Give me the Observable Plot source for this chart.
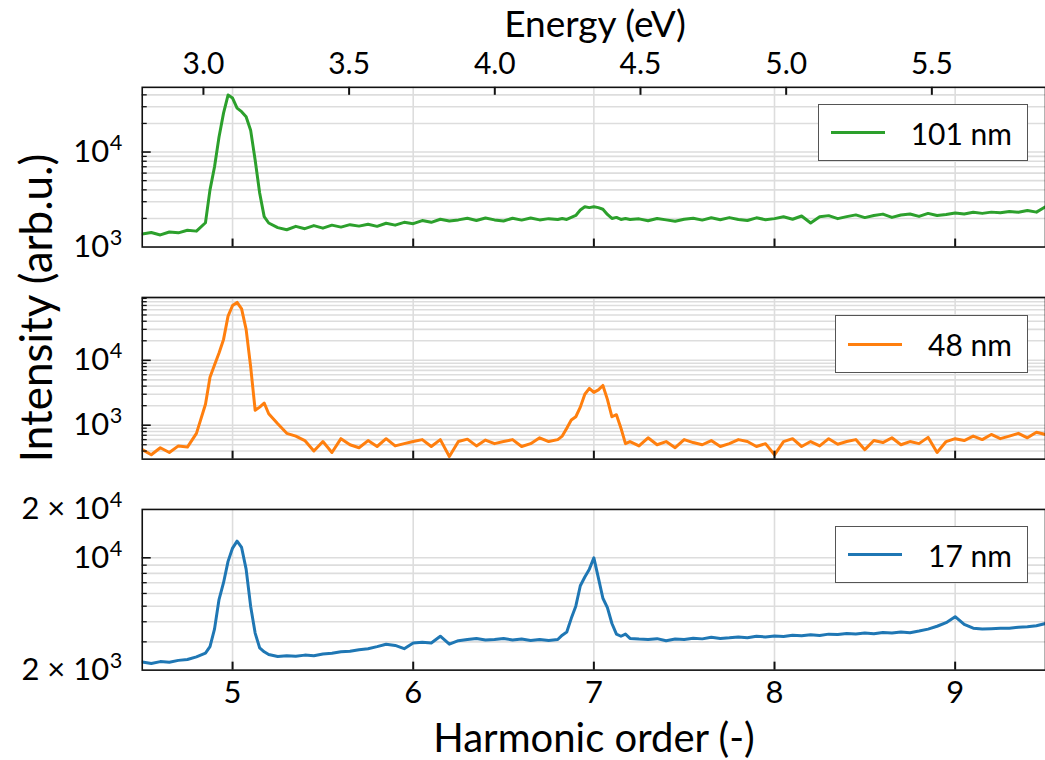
<!DOCTYPE html>
<html><head><meta charset="utf-8">
<script src="https://cdn.jsdelivr.net/npm/d3@7"></script>
<script src="https://cdn.jsdelivr.net/npm/@observablehq/plot@0.6"></script>
<style>
body{margin:0;background:#fff;}
#fig{position:relative;width:1045px;height:760px;overflow:hidden;font-family:Lato,"Open Sans",sans-serif;color:#000;background:#fff;}
.panel{position:absolute;left:0;}
.title{position:absolute;white-space:nowrap;line-height:1;}
.legend{position:absolute;border:1.5px solid #555;background:#fff;box-sizing:border-box;}
.legend .ln{position:absolute;height:3px;}
.legend .tx{position:absolute;font-size:30px;line-height:1;white-space:nowrap;}
</style></head>
<body><div id="fig"></div>
<script>
// ---- data ----
const harmonic = [4.50,4.55,4.60,4.65,4.70,4.75,4.80,4.85,
 4.875,4.90,4.925,4.95,4.975,5.00,5.025,5.05,5.075,5.10,5.125,5.15,5.175,5.20,
 5.25,5.30,5.35,5.40,5.45,5.50,5.55,5.60,5.65,5.70,5.75,5.80,5.85,5.90,5.95,6.00,
 6.05,6.10,6.15,6.20,6.25,6.30,6.35,6.40,6.45,6.50,6.55,6.60,6.65,6.70,6.75,
 6.80,6.825,6.85,6.875,6.90,6.925,6.95,6.975,7.00,7.025,7.05,7.075,7.10,7.125,7.15,7.175,7.20,
 7.25,7.30,7.35,7.40,7.45,7.50,7.55,7.60,7.65,7.70,7.75,7.80,7.85,7.90,7.95,8.00,
 8.05,8.10,8.15,8.20,8.25,8.30,8.35,8.40,8.45,8.50,8.55,8.60,8.65,8.70,8.75,
 8.80,8.85,8.90,8.95,9.00,9.05,9.10,9.15,9.20,9.25,9.30,9.35,9.40,9.45,9.50];

const intensity101 = [1370,1420,1340,1440,1410,1500,1470,1800,
 4000,6950,14400,25700,39800,37000,29000,26600,23500,17000,8240,3700,2090,1790,
 1600,1520,1650,1560,1680,1580,1700,1620,1720,1660,1740,1650,1780,1700,1820,1760,
 1900,1820,1960,1880,1930,2010,1900,2020,1930,1880,2010,1920,2020,1930,1990,
 1950,2000,1950,2050,2150,2450,2650,2600,2650,2600,2500,2200,2000,2050,1950,2000,1950,
 1980,1890,2000,1930,1870,1960,2010,1920,2030,1940,2040,1950,1900,2030,1940,1990,
 2080,1960,2120,1790,2080,2140,1990,2090,2180,2040,2150,2220,2050,2170,2230,
 2100,2260,2150,2200,2280,2230,2320,2260,2330,2290,2370,2320,2420,2330,2650];

const intensity48 = [420,350,450,380,480,460,750,2100,
 5500,8500,13000,21000,48000,70000,78000,62000,30000,8000,1700,1900,2200,1500,
 1050,750,680,580,400,560,380,620,500,450,580,470,620,480,520,560,
 600,470,600,330,560,610,480,590,520,560,600,470,520,640,560,
 600,680,900,1200,1350,1900,3000,3700,3200,3500,4100,2500,1350,1450,900,520,560,
 480,640,500,560,450,600,540,500,580,470,520,600,560,470,520,350,
 560,620,470,560,480,620,510,560,600,420,580,540,640,500,560,
 520,650,380,560,620,580,680,600,720,620,680,750,640,780,720];

const intensity17 = [2250,2200,2260,2240,2300,2330,2420,2550,
 2800,3600,5500,7000,9500,11500,12700,11600,8500,5000,3400,2750,2600,2500,
 2430,2460,2440,2480,2460,2520,2550,2600,2620,2680,2720,2800,2900,2850,2720,2950,
 2980,2950,3250,2900,3050,3100,3150,3080,3100,3150,3080,3120,3060,3100,3060,
 3100,3300,3450,4200,5000,6700,7600,8500,10000,7500,5600,4900,3900,3350,3250,3350,3150,
 3120,3100,3140,3050,3120,3100,3160,3130,3200,3150,3180,3220,3180,3250,3220,3260,
 3240,3300,3270,3320,3290,3350,3330,3380,3360,3400,3370,3430,3400,3450,3420,
 3500,3600,3750,3950,4300,3850,3650,3600,3620,3650,3640,3700,3720,3780,3900];

const seriesLabels = ["101 nm", "48 nm", "17 nm"];
const seriesColors = ["#2ca02c", "#ff7f0e", "#1f77b4"];
const harmonicTicks = [5, 6, 7, 8, 9];
const energyTicks = [3.0, 3.5, 4.0, 4.5, 5.0, 5.5];
const photonEnergy = 0.62; // eV per harmonic order (fundamental)
const xDomain = [4.5, 9.5];
const yDomains = [[1000, 48000], [300, 93000], [2000, 20000]];
const yMajors = [[1e3, 1e4], [1e3, 1e4], [2e3, 1e4, 2e4]];
const yMinors = [
  [2e3,3e3,4e3,5e3,6e3,7e3,8e3,9e3,2e4,3e4,4e4],
  [4e2,5e2,6e2,7e2,8e2,9e2,2e3,3e3,4e3,5e3,6e3,7e3,8e3,9e3,2e4,3e4,4e4,5e4,6e4,7e4,8e4,9e4],
  [3e3,4e3,5e3,6e3,7e3,8e3,9e3]
];
const xTitle = "Harmonic order (-)";
const topTitle = "Energy (eV)";
const yTitle = "Intensity (arb.u.)";

// ---- layout ----
const FONT = 'Lato, "Open Sans", sans-serif';
const SVGNS = "http://www.w3.org/2000/svg";
const W = 1047, ML = 142;
const layouts = [
  {top: 0, height: 250, marginTop: 87, marginBottom: 3},
  {top: 280, height: 182, marginTop: 17, marginBottom: 3},
  {top: 480, height: 280, marginTop: 29, marginBottom: 90}
];
function fmtLog(v) {
  const e = Math.floor(Math.log10(v) + 1e-9);
  const m = Math.round(v / Math.pow(10, e));
  return (m === 1 ? "" : m + " × ") + "10^" + e;
}
const seriesValues = [intensity101, intensity48, intensity17];
const fig = document.getElementById("fig");

seriesValues.forEach((vals, i) => {
  const L = layouts[i];
  const innerW = W - ML;
  const innerH = L.height - L.marginTop - L.marginBottom;
  const data = harmonic.map((h, j) => ({h, v: vals[j]}));
  const inside = v => v > yDomains[i][0] && v < yDomains[i][1];
  const marks = [
    Plot.ruleX(harmonicTicks, {x: d => d, stroke: "#dddddd", strokeWidth: 1.6}),
    Plot.ruleY([...yMinors[i], ...yMajors[i]].filter(inside), {y: d => d, stroke: "#dddddd", strokeWidth: 1.6}),
    Plot.line(data, {x: "h", y: "v", stroke: seriesColors[i], strokeWidth: 3, strokeLinejoin: "round", clip: true}),
    Plot.ruleX(harmonicTicks, {x: d => d, stroke: "#111", strokeWidth: 2, insetTop: innerH - 8}),
    Plot.ruleY(yMajors[i].filter(inside), {y: d => d, stroke: "#111", strokeWidth: 1.6, insetRight: innerW - 9}),
    Plot.ruleY(yMinors[i], {y: d => d, stroke: "#111", strokeWidth: 1.3, insetRight: innerW - 5}),
    Plot.axisY(yMajors[i], {tickSize: 0, tickPadding: 20, tickFormat: fmtLog, fontSize: 31, fontFamily: FONT, label: null}),
    Plot.frame({stroke: "#111", strokeWidth: 1.6})
  ];
  if (i === 0) {
    marks.push(Plot.ruleX(energyTicks, {x: e => e / photonEnergy, stroke: "#111", strokeWidth: 2, insetBottom: innerH - 8}));
    marks.push(Plot.axisX(energyTicks.map(e => e / photonEnergy), {anchor: "top", tickSize: 0, tickPadding: 13, tickFormat: d => (d * photonEnergy).toFixed(1), fontSize: 30, fontFamily: FONT, label: null}));
  } else if (i === 2) {
    marks.push(Plot.axisX(harmonicTicks, {anchor: "bottom", tickSize: 0, tickPadding: 11, tickFormat: d => String(d), fontSize: 31, fontFamily: FONT, label: null}));
  }
  const chart = Plot.plot({
    width: W, height: L.height,
    marginLeft: ML, marginRight: 0, marginTop: L.marginTop, marginBottom: L.marginBottom,
    x: {type: "linear", domain: xDomain, ...(i === 1 ? {axis: null} : {})},
    y: {type: "log", domain: yDomains[i]},
    style: {fontFamily: FONT, fontSize: "30px", background: "transparent", color: "#000", overflow: "visible"},
    marks
  });
  // render exponents as raised superscripts
  chart.querySelectorAll('[aria-label="y-axis tick label"] text').forEach(t => {
    const s = t.textContent, k = s.indexOf("^");
    if (k < 0) return;
    t.textContent = "";
    const base = document.createElementNS(SVGNS, "tspan");
    base.textContent = s.slice(0, k);
    const sup = document.createElementNS(SVGNS, "tspan");
    sup.textContent = s.slice(k + 1);
    sup.setAttribute("font-size", "0.7em");
    sup.setAttribute("dy", "-0.55em");
    sup.setAttribute("dx", "0.03em");
    t.appendChild(base); t.appendChild(sup);
  });
  chart.classList.add("panel");
  chart.style.top = L.top + "px";
  fig.appendChild(chart);
});

// titles
function addTitle(text, cx, cy, rotate, size, lh) {
  const d = document.createElement("div");
  d.className = "title";
  d.textContent = text;
  d.style.fontSize = size + "px";
  if (lh) d.style.lineHeight = lh;
  d.style.left = cx + "px";
  d.style.top = cy + "px";
  d.style.transform = `translate(-50%,-50%)` + (rotate ? ` rotate(-90deg)` : "");
  fig.appendChild(d);
}
addTitle(topTitle, 595, 22.5, false, 37, 1.2);
addTitle(xTitle, 594, 737, false, 40);
addTitle(yTitle, 35, 308, true, 44);

// legends
const legendBoxes = [
  {left: 818, top: 104, width: 210, height: 57},
  {left: 835, top: 315, width: 193, height: 58},
  {left: 835, top: 526, width: 193, height: 57}
];
legendBoxes.forEach((b, i) => {
  const box = document.createElement("div");
  box.className = "legend";
  Object.assign(box.style, {left: b.left + "px", top: b.top + "px", width: b.width + "px", height: b.height + "px"});
  const ln = document.createElement("div");
  ln.className = "ln";
  Object.assign(ln.style, {left: "12px", width: "54px", top: (b.height / 2 - 2.5) + "px", background: seriesColors[i]});
  const tx = document.createElement("div");
  tx.className = "tx";
  tx.textContent = seriesLabels[i];
  Object.assign(tx.style, {right: "15px", top: "50%", transform: "translateY(-50%)"});
  box.appendChild(ln); box.appendChild(tx);
  fig.appendChild(box);
});
</script>
</body></html>
